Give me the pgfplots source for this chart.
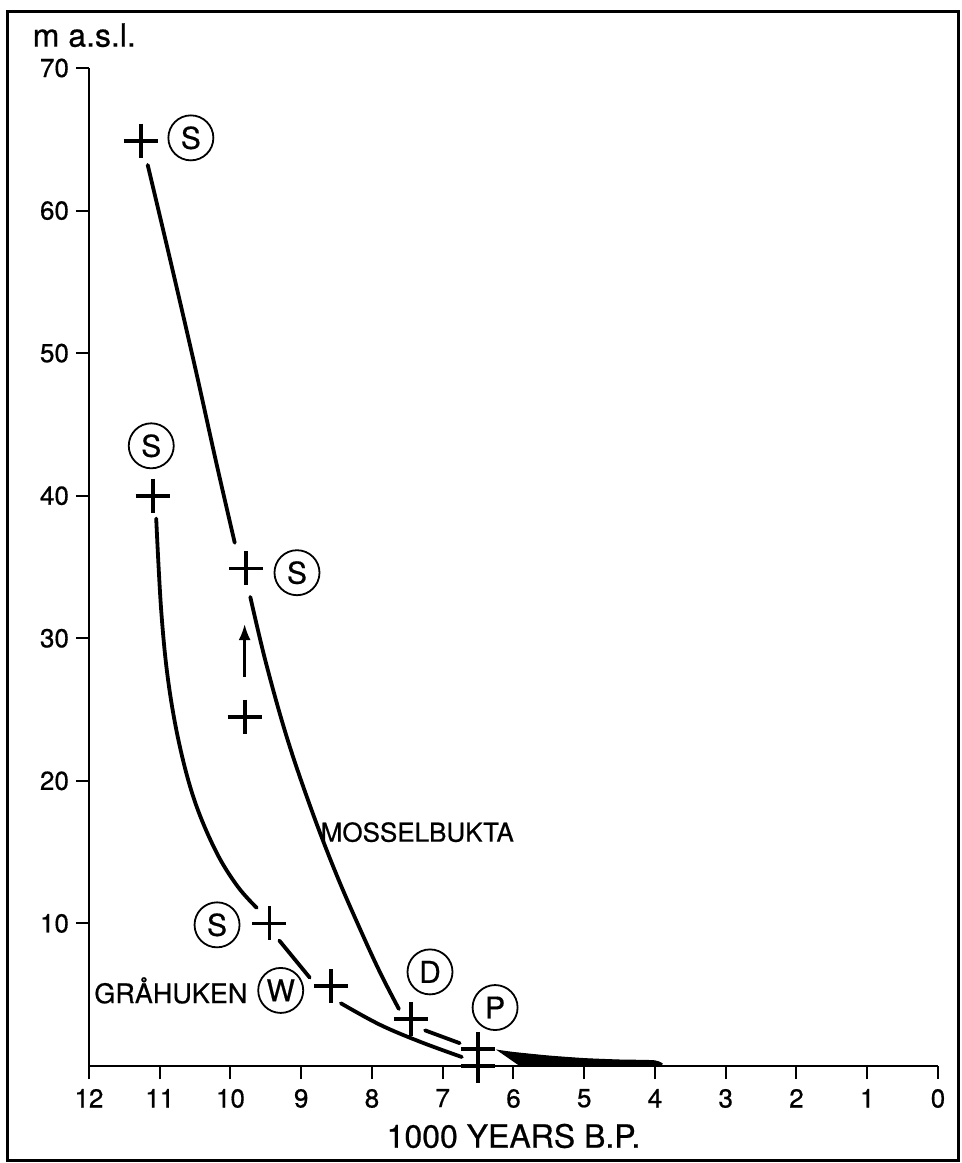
\documentclass[border=0pt]{standalone}
\usepackage{pgfplots}
\pgfplotsset{compat=1.18}
\usepackage{fontspec}
\setmainfont{TeX Gyre Heros}[FakeBold=0.6]
\usetikzlibrary{arrows.meta}
\begin{document}
\begin{tikzpicture}
\begin{axis}[
  at={(0,0)}, anchor=south west,
  scale only axis, width=424.5pt, height=499pt,
  xmin=0, xmax=12, ymin=0, ymax=70,
  x dir=reverse,
  axis x line*=bottom, axis y line*=left,
  xtick={0,1,...,12}, ytick={10,20,...,70},
  tick align=outside, major tick length=6.5pt,
  tick style={line width=1pt, black},
  axis line style={line width=1.2pt},
  /pgf/number format/assume math mode=true,
  ticklabel style={font=\fontsize{13}{15}\selectfont},
  xticklabel style={yshift=-1.5pt},
  clip=false,
]
% Mosselbukta curve
\addplot[line width=1.9pt, smooth, tension=0.6, line cap=round] coordinates {
(11.17,63.2) (10.85,56.5) (10.5,49.0) (10.2,42.3) (9.94,36.7)};
\addplot[line width=1.9pt, smooth, tension=0.6, line cap=round] coordinates {
(9.72,32.9) (9.5,28.3) (9.2,23.0) (8.85,17.9) (8.5,13.4) (8.15,9.4) (7.88,6.5) (7.62,4.0)};
\addplot[line width=1.9pt, line cap=round] coordinates {(7.25,2.5) (6.76,1.6)};
\addplot[fill=black, draw=black, line width=0.5pt, smooth, tension=0.4] coordinates {
(6.22,1.1) (6.0,0.95) (5.5,0.7) (5.0,0.52) (4.5,0.42) (4.0,0.36) (4.0,0) (5.9,0)} -- cycle;
% Grahuken curve
\addplot[line width=1.9pt, smooth, tension=0.6, line cap=round] coordinates {
(11.05,38.4) (10.98,32.0) (10.88,27.0) (10.72,22.5) (10.5,18.5) (10.2,15.0) (9.9,12.6) (9.63,11.1)};
\addplot[line width=1.9pt, line cap=round] coordinates {(9.31,8.8) (8.88,6.2)};
\addplot[line width=1.9pt, smooth, tension=0.6, line cap=round] coordinates {
(8.44,4.4) (7.89,2.9) (7.32,1.7) (6.73,0.63)};
% arrow
\addplot[line width=1.2pt, -{Latex[length=8pt,width=6pt]}] coordinates {(9.8,27.3) (9.8,31.0)};
% data points
\addplot[only marks, mark=+, mark size=8.5pt, mark options={line width=1.9pt}] coordinates {
(11.27,64.9) (9.78,34.9) (9.8,24.5) (7.45,3.3) (6.5,1.2) (6.5,0)
(11.1,40.0) (9.45,10.0) (8.58,5.6)};
% circled letters
\tikzset{lbl/.style={draw, circle, line width=0.9pt, minimum size=22.5pt, inner sep=0pt, font=\fontsize{15}{15}\selectfont}}
\node[lbl] at (axis cs:10.56,65.1) {S};
\node[lbl] at (axis cs:9.06,34.6) {S};
\node[lbl] at (axis cs:11.12,43.5) {S};
\node[lbl] at (axis cs:10.19,9.9) {S};
\node[lbl] at (axis cs:9.29,5.3) {W};
\node[lbl] at (axis cs:7.18,6.6) {D};
\node[lbl] at (axis cs:6.26,4.1) {P};
\node[anchor=west, inner sep=0pt, font=\fontsize{13.5}{15}\selectfont] at (axis cs:11.93,5.3) {GRÅHUKEN};
\node[anchor=west, inner sep=0pt, font=\fontsize{13}{15}\selectfont] at (axis cs:8.73,16.4) {MOSSELBUKTA};
\node[anchor=west, inner sep=0pt, font=\fontsize{16}{18}\selectfont] at (axis cs:12.8,72.3) {m a.s.l.};
\node[anchor=center, font=\fontsize{16}{18}\selectfont] at (axis description cs:0.5,0) [yshift=-35pt] {1000 YEARS B.P.};
\end{axis}
\draw[line width=1.5pt] (-40.5pt,-47pt) rectangle (434.5pt,527pt);
\path (-44.5pt,-48.5pt) rectangle (436.5pt,533pt);
\end{tikzpicture}
\end{document}
